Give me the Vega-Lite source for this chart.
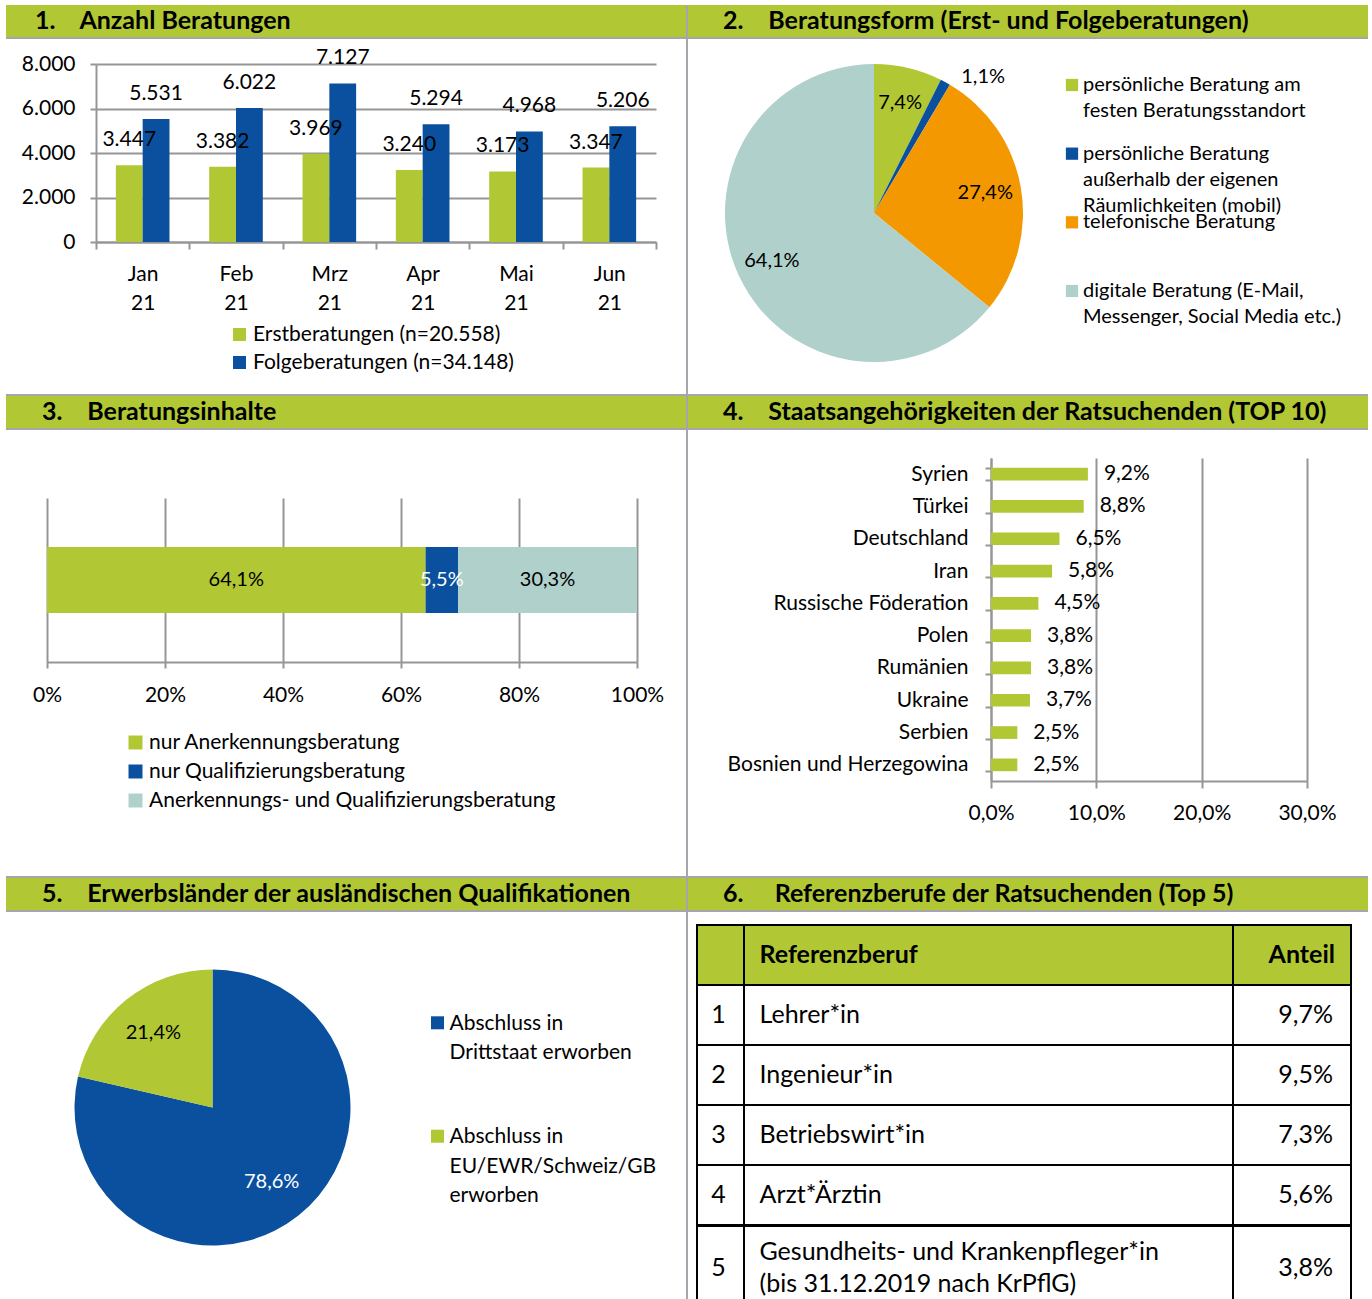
{
  "$schema": "https://vega.github.io/schema/vega-lite/v6.json",
  "padding": {"left": 6, "top": 5, "right": 0, "bottom": 0},
  "background": "#ffffff",
  "config": {
    "font": "Lato",
    "locale": {"number": {"decimal": ",", "thousands": ".", "grouping": [3], "currency": ["", " €"]}},
    "view": {"stroke": null},
    "concat": {"spacing": 0},
    "axis": {"labelFont": "Lato", "labelFontSize": 21, "labelColor": "#000000", "labelLimit": 400, "labelFlush": false, "domainColor": "#969696", "tickColor": "#969696", "gridColor": "#969696", "domainWidth": 2, "tickWidth": 2, "gridWidth": 2},
    "legend": {"labelFont": "Lato", "labelFontSize": 21, "labelColor": "#000000", "labelLimit": 500, "padding": 0, "symbolType": "square", "symbolStrokeWidth": 0},
    "text": {"font": "Lato", "color": "#000000"}
  },
  "datasets": {
    "beratungsform": [
      {"form": "persönliche Beratung am\nfesten Beratungsstandort", "anteil": 0.074, "nr": 1},
      {"form": "persönliche Beratung\naußerhalb der eigenen\nRäumlichkeiten (mobil)", "anteil": 0.011, "nr": 2},
      {"form": "telefonische Beratung", "anteil": 0.274, "nr": 3},
      {"form": "digitale Beratung (E-Mail,\nMessenger, Social Media etc.)", "anteil": 0.641, "nr": 4}
    ],
    "erwerb": [
      {"land": "Abschluss in\nDrittstaat erworben", "anteil": 0.786, "nr": 1},
      {"land": "Abschluss in\nEU/EWR/Schweiz/GB\nerworben", "anteil": 0.214, "nr": 2}
    ],
    "tabelle": [
      {"zeile": "Kopf", "rang": "", "beruf": "Referenzberuf", "anteil": null},
      {"zeile": "1", "rang": "1", "beruf": "Lehrer*in", "anteil": 0.097},
      {"zeile": "2", "rang": "2", "beruf": "Ingenieur*in", "anteil": 0.095},
      {"zeile": "3", "rang": "3", "beruf": "Betriebswirt*in", "anteil": 0.073},
      {"zeile": "4", "rang": "4", "beruf": "Arzt*Ärztin", "anteil": 0.056},
      {"zeile": "5", "rang": "5", "beruf": "Gesundheits- und Krankenpfleger*in\n(bis 31.12.2019 nach KrPflG)", "anteil": 0.038}
    ]
  },
  "spacing": 0,
  "resolve": {"scale": {"color": "independent", "theta": "independent"}},
  "hconcat": [
    {
      "spacing": 0,
      "resolve": {"scale": {"color": "independent", "theta": "independent"}},
      "vconcat": [
        {"width": 680, "height": 32, "view": {"fill": "#b1c834"}, "data": {"values": [{"t": "1.\u2003\u00a0Anzahl Beratungen"}]},
         "mark": {"type": "text", "align": "left", "baseline": "alphabetic", "dx": -311, "dy": 8, "fontSize": 25, "fontWeight": "bold"}, "encoding": {"text": {"field": "t"}}},
        {"width": 680, "height": 2, "view": {"fill": "#a5a5ab"}, "data": {"values": []}, "mark": "point", "encoding": {}},
        {
          "width": 680, "height": 355,
          "data": {"values": [
            {"monat": "Jan 21", "art": "Erstberatungen (n=20.558)", "anzahl": 3447},
            {"monat": "Jan 21", "art": "Folgeberatungen (n=34.148)", "anzahl": 5531},
            {"monat": "Feb 21", "art": "Erstberatungen (n=20.558)", "anzahl": 3382},
            {"monat": "Feb 21", "art": "Folgeberatungen (n=34.148)", "anzahl": 6022},
            {"monat": "Mrz 21", "art": "Erstberatungen (n=20.558)", "anzahl": 3969},
            {"monat": "Mrz 21", "art": "Folgeberatungen (n=34.148)", "anzahl": 7127},
            {"monat": "Apr 21", "art": "Erstberatungen (n=20.558)", "anzahl": 3240},
            {"monat": "Apr 21", "art": "Folgeberatungen (n=34.148)", "anzahl": 5294},
            {"monat": "Mai 21", "art": "Erstberatungen (n=20.558)", "anzahl": 3173},
            {"monat": "Mai 21", "art": "Folgeberatungen (n=34.148)", "anzahl": 4968},
            {"monat": "Jun 21", "art": "Erstberatungen (n=20.558)", "anzahl": 3347},
            {"monat": "Jun 21", "art": "Folgeberatungen (n=34.148)", "anzahl": 5206}
          ]},
          "encoding": {
            "x": {"field": "monat", "type": "nominal", "sort": null, "title": null,
                  "scale": {"range": [90, 650], "paddingInner": 0, "paddingOuter": 0},
                  "axis": {"orient": "bottom", "offset": -152, "labelAngle": 0, "tickBand": "extent", "labelExpr": "split(datum.label, ' ')", "labelLineHeight": 29, "labelPadding": 14, "labelBaseline": "top", "tickSize": 7, "grid": false}},
            "xOffset": {"field": "art", "type": "nominal", "sort": null, "scale": {"paddingInner": 0, "paddingOuter": 0.741}},
            "y": {"field": "anzahl", "type": "quantitative", "title": null, "scale": {"domain": [0, 8000], "nice": false, "range": [203, 25]},
                  "axis": {"offset": -90, "values": [0, 2000, 4000, 6000, 8000], "format": ",d", "tickSize": 6, "labelPadding": 15, "grid": true}},
            "color": {"field": "art", "type": "nominal", "sort": null, "scale": {"range": ["#b1c834", "#0a509e"]},
                      "legend": {"title": null, "orient": "none", "legendX": 223, "legendY": 285, "symbolType": "square", "symbolSize": 169, "rowPadding": 6, "labelOffset": 3}}
          },
          "layer": [
            {"mark": {"type": "bar"}},
            {"mark": {"type": "text", "baseline": "middle", "dy": -25, "fontSize": 21},
             "encoding": {"text": {"field": "anzahl", "type": "quantitative", "format": ",d"}, "color": {"value": "#000000"}}}
          ]
        },
        {"width": 680, "height": 2, "view": {"fill": "#a5a5ab"}, "data": {"values": []}, "mark": "point", "encoding": {}},
        {"width": 680, "height": 32, "view": {"fill": "#b1c834"}, "data": {"values": [{"t": "3.\u2003\u00a0Beratungsinhalte"}]},
         "mark": {"type": "text", "align": "left", "baseline": "alphabetic", "dx": -304, "dy": 8, "fontSize": 25, "fontWeight": "bold"}, "encoding": {"text": {"field": "t"}}},
        {"width": 680, "height": 2, "view": {"fill": "#a5a5ab"}, "data": {"values": []}, "mark": "point", "encoding": {}},
        {
          "spacing": 0,
          "resolve": {"scale": {"color": "independent"}},
          "vconcat": [
            {"width": 1, "height": 68, "data": {"values": []}, "mark": "point", "encoding": {}},
            {
              "spacing": 0, "bounds": "flush",
              "resolve": {"scale": {"color": "independent"}},
              "hconcat": [
                {"width": 41, "height": 378, "data": {"values": []}, "mark": "point", "encoding": {}},
                {
                  "width": 590, "height": 164,
                  "data": {"values": [
                    {"inhalt": "nur Anerkennungsberatung", "anteil": 0.641, "nr": 1},
                    {"inhalt": "nur Qualifizierungsberatung", "anteil": 0.055, "nr": 2},
                    {"inhalt": "Anerkennungs- und Qualifizierungsberatung", "anteil": 0.303, "nr": 3}
                  ]},
                  "encoding": {
                    "x": {"field": "anteil", "type": "quantitative", "stack": "normalize", "title": null,
                          "scale": {"domain": [0, 1], "nice": false},
                          "axis": {"values": [0, 0.2, 0.4, 0.6, 0.8, 1], "format": ".0%", "grid": true, "tickSize": 6, "labelPadding": 16}},
                    "y": {"datum": "Beratungsinhalte", "type": "nominal", "scale": {"paddingInner": 0, "paddingOuter": 0.742}, "axis": null},
                    "order": {"field": "nr", "type": "quantitative"},
                    "color": {"field": "inhalt", "type": "nominal", "sort": null, "scale": {"range": ["#b1c834", "#0a509e", "#b0d0cb"]},
                              "legend": {"title": null, "orient": "none", "legendX": 78, "legendY": 234, "symbolType": "square", "symbolSize": 196, "rowPadding": 7, "labelOffset": 3}}
                  },
                  "layer": [
                    {"mark": {"type": "bar"}},
                    {"mark": {"type": "text", "fontSize": 20},
                     "encoding": {"x": {"field": "anteil", "type": "quantitative", "stack": "normalize", "bandPosition": 0.5, "title": null,
                                        "scale": {"domain": [0, 1], "nice": false},
                                        "axis": {"values": [0, 0.2, 0.4, 0.6, 0.8, 1], "format": ".0%", "grid": true, "tickSize": 6, "labelPadding": 16}},
                                  "text": {"field": "anteil", "type": "quantitative", "format": ".1%"},
                                  "color": {"condition": {"test": "datum.nr == 2", "value": "#ffffff"}, "value": "#000000"}}}
                  ]
                }
              ]
            }
          ]
        },
        {"width": 680, "height": 2, "view": {"fill": "#a5a5ab"}, "data": {"values": []}, "mark": "point", "encoding": {}},
        {"width": 680, "height": 32, "view": {"fill": "#b1c834"}, "data": {"values": [{"t": "5.\u2003\u00a0Erwerbsländer der ausländischen Qualifikationen"}]},
         "mark": {"type": "text", "align": "left", "baseline": "alphabetic", "dx": -304, "dy": 8, "fontSize": 25, "fontWeight": "bold"}, "encoding": {"text": {"field": "t"}}},
        {"width": 680, "height": 2, "view": {"fill": "#a5a5ab"}, "data": {"values": []}, "mark": "point", "encoding": {}},
        {
          "spacing": 0, "bounds": "flush",
          "hconcat": [
            {
              "width": 413, "height": 391,
              "data": {"name": "erwerb"},
              "encoding": {
                "theta": {"field": "anteil", "type": "quantitative", "stack": true},
                "order": {"field": "nr", "type": "quantitative"},
                "color": {"field": "land", "type": "nominal", "sort": null, "scale": {"range": ["#0a509e", "#b1c834"]}, "legend": null}
              },
              "layer": [
                {"mark": {"type": "arc", "outerRadius": 138}},
                {"mark": {"type": "text", "radius": 95, "fontSize": 20},
                 "encoding": {"text": {"field": "anteil", "type": "quantitative", "format": ".1%"},
                              "color": {"condition": {"test": "datum.nr == 1", "value": "#ffffff"}, "value": "#000000"}}}
              ]
            },
            {
              "width": 37, "height": 335,
              "data": {"name": "erwerb"},
              "encoding": {
                "y": {"field": "land", "type": "nominal", "sort": null, "scale": {"padding": 0.977}, "axis": null},
                "color": {"field": "land", "type": "nominal", "sort": null, "scale": {"range": ["#0a509e", "#b1c834"]}, "legend": null}
              },
              "layer": [
                {"mark": {"type": "square", "size": 169, "opacity": 1}},
                {"mark": {"type": "text", "align": "left", "baseline": "top", "dx": 12, "dy": -10, "fontSize": 21, "lineBreak": "\n", "lineHeight": 29.5},
                 "encoding": {"text": {"field": "land"}, "color": {"value": "#000000"}}}
              ]
            }
          ]
        }
      ]
    },
    {"width": 2, "height": 1294, "view": {"fill": "#a5a5ab"}, "data": {"values": []}, "mark": "point", "encoding": {}},
    {
      "spacing": 0,
      "resolve": {"scale": {"color": "independent", "theta": "independent"}},
      "vconcat": [
        {"width": 680, "height": 32, "view": {"fill": "#b1c834"}, "data": {"values": [{"t": "2.\u2003\u00a0Beratungsform (Erst- und Folgeberatungen)"}]},
         "mark": {"type": "text", "align": "left", "baseline": "alphabetic", "dx": -305, "dy": 8, "fontSize": 25, "fontWeight": "bold"}, "encoding": {"text": {"field": "t"}}},
        {"width": 680, "height": 2, "view": {"fill": "#a5a5ab"}, "data": {"values": []}, "mark": "point", "encoding": {}},
        {
          "spacing": 0, "bounds": "flush",
          "hconcat": [
            {
              "width": 372, "height": 348,
              "data": {"name": "beratungsform"},
              "encoding": {
                "theta": {"field": "anteil", "type": "quantitative", "stack": true},
                "order": {"field": "nr", "type": "quantitative"},
                "color": {"field": "form", "type": "nominal", "sort": null, "scale": {"range": ["#b1c834", "#0a509e", "#f39800", "#b0d0cb"]}, "legend": null}
              },
              "layer": [
                {"mark": {"type": "arc", "outerRadius": 149}},
                {"mark": {"type": "text", "radius": 113, "fontSize": 20},
                 "encoding": {"text": {"condition": {"test": "datum.nr == 2", "value": ""}, "field": "anteil", "type": "quantitative", "format": ".1%"}, "color": {"value": "#000000"}}},
                {"mark": {"type": "text", "radius": 155, "fontSize": 20, "align": "left", "dx": 13},
                 "encoding": {"text": {"condition": {"test": "datum.nr != 2", "value": ""}, "field": "anteil", "type": "quantitative", "format": ".1%"}, "color": {"value": "#000000"}}}
              ]
            },
            {
              "width": 24, "height": 298,
              "data": {"name": "beratungsform"},
              "encoding": {
                "y": {"field": "form", "type": "nominal", "sort": null, "scale": {"padding": 0.67}, "axis": null},
                "color": {"field": "form", "type": "nominal", "sort": null, "scale": {"range": ["#b1c834", "#0a509e", "#f39800", "#b0d0cb"]}, "legend": null}
              },
              "layer": [
                {"mark": {"type": "square", "size": 150, "opacity": 1}},
                {"mark": {"type": "text", "align": "left", "baseline": "top", "dx": 11, "dy": -10, "fontSize": 20, "lineBreak": "\n", "lineHeight": 26},
                 "encoding": {"text": {"field": "form"}, "color": {"value": "#000000"}}}
              ]
            },
            {"width": 1, "height": 355, "data": {"values": []}, "mark": "point", "encoding": {}}
          ]
        },
        {"width": 680, "height": 2, "view": {"fill": "#a5a5ab"}, "data": {"values": []}, "mark": "point", "encoding": {}},
        {"width": 680, "height": 32, "view": {"fill": "#b1c834"}, "data": {"values": [{"t": "4.\u2003\u00a0Staatsangehörigkeiten der Ratsuchenden (TOP 10)"}]},
         "mark": {"type": "text", "align": "left", "baseline": "alphabetic", "dx": -305, "dy": 8, "fontSize": 25, "fontWeight": "bold"}, "encoding": {"text": {"field": "t"}}},
        {"width": 680, "height": 2, "view": {"fill": "#a5a5ab"}, "data": {"values": []}, "mark": "point", "encoding": {}},
        {
          "spacing": 0,
          "vconcat": [
            {"width": 1, "height": 17, "data": {"values": []}, "mark": "point", "encoding": {}},
            {
              "spacing": 0, "bounds": "flush",
              "hconcat": [
                {"width": 303, "height": 418, "data": {"values": []}, "mark": "point", "encoding": {}},
                {
                  "width": 316, "height": 323,
                  "data": {"values": [
                    {"land": "Syrien", "anteil": 0.092},
                    {"land": "Türkei", "anteil": 0.088},
                    {"land": "Deutschland", "anteil": 0.065},
                    {"land": "Iran", "anteil": 0.058},
                    {"land": "Russische Föderation", "anteil": 0.045},
                    {"land": "Polen", "anteil": 0.038},
                    {"land": "Rumänien", "anteil": 0.038},
                    {"land": "Ukraine", "anteil": 0.037},
                    {"land": "Serbien", "anteil": 0.025},
                    {"land": "Bosnien und Herzegowina", "anteil": 0.025}
                  ]},
                  "encoding": {
                    "y": {"field": "land", "type": "nominal", "sort": null, "title": null,
                          "scale": {"paddingInner": 0.607, "paddingOuter": 0.3035},
                          "axis": {"tickBand": "extent", "tickSize": 6, "labelPadding": 17, "grid": false}},
                    "x": {"field": "anteil", "type": "quantitative", "title": null, "scale": {"domain": [0, 0.3], "nice": false},
                          "axis": {"values": [0, 0.1, 0.2, 0.3], "format": ".1%", "grid": true, "tickSize": 7, "labelPadding": 14}}
                  },
                  "layer": [
                    {"mark": {"type": "bar", "color": "#b1c834"}},
                    {"mark": {"type": "text", "align": "left", "dx": 16, "fontSize": 21},
                     "encoding": {"text": {"field": "anteil", "type": "quantitative", "format": ".1%"}}}
                  ]
                }
              ]
            }
          ]
        },
        {"width": 680, "height": 2, "view": {"fill": "#a5a5ab"}, "data": {"values": []}, "mark": "point", "encoding": {}},
        {"width": 680, "height": 32, "view": {"fill": "#b1c834"}, "data": {"values": [{"t": "6.\u2003\u2002Referenzberufe der Ratsuchenden (Top 5)"}]},
         "mark": {"type": "text", "align": "left", "baseline": "alphabetic", "dx": -305, "dy": 8, "fontSize": 25, "fontWeight": "bold"}, "encoding": {"text": {"field": "t"}}},
        {"width": 680, "height": 2, "view": {"fill": "#a5a5ab"}, "data": {"values": []}, "mark": "point", "encoding": {}},
        {
          "spacing": 0,
          "vconcat": [
            {"width": 1, "height": 12, "data": {"values": []}, "mark": "point", "encoding": {}},
            {
              "spacing": 0,
              "hconcat": [
                {"width": 8, "height": 1, "data": {"values": []}, "mark": "point", "encoding": {}},
                {
                  "spacing": -2,
                  "vconcat": [
                    {
                      "spacing": 0, "bounds": "flush",
                      "hconcat": [
                        {
                          "width": 47, "height": 300,
                          "data": {"name": "tabelle"},
                          "transform": [{"filter": "datum.zeile != '5'"}],
                          "encoding": {"y": {"field": "zeile", "type": "nominal", "sort": null, "scale": {"type": "band", "paddingInner": 0, "paddingOuter": 0}, "axis": null}},
                          "layer": [
                            {"mark": {"type": "rect", "stroke": "#000000", "strokeWidth": 2},
                             "encoding": {"color": {"condition": {"test": "datum.zeile == 'Kopf'", "value": "#b1c834"}, "value": "#ffffff"}}},
                            {"mark": {"type": "text", "fontSize": 25, "dx": -2}, "encoding": {"text": {"field": "rang"}}}
                          ]
                        },
                        {
                          "width": 489, "height": 300,
                          "data": {"name": "tabelle"},
                          "transform": [{"filter": "datum.zeile != '5'"}],
                          "encoding": {"y": {"field": "zeile", "type": "nominal", "sort": null, "scale": {"type": "band", "paddingInner": 0, "paddingOuter": 0}, "axis": null}},
                          "layer": [
                            {"mark": {"type": "rect", "stroke": "#000000", "strokeWidth": 2},
                             "encoding": {"color": {"condition": {"test": "datum.zeile == 'Kopf'", "value": "#b1c834"}, "value": "#ffffff"}}},
                            {"transform": [{"filter": "datum.zeile != 'Kopf'"}],
                             "mark": {"type": "text", "align": "left", "dx": -229, "fontSize": 25}, "encoding": {"text": {"field": "beruf"}}},
                            {"transform": [{"filter": "datum.zeile == 'Kopf'"}],
                             "mark": {"type": "text", "align": "left", "dx": -229, "fontSize": 25, "fontWeight": "bold"}, "encoding": {"text": {"field": "beruf"}}}
                          ]
                        },
                        {
                          "width": 118, "height": 300,
                          "data": {"name": "tabelle"},
                          "transform": [{"filter": "datum.zeile != '5'"}],
                          "encoding": {"y": {"field": "zeile", "type": "nominal", "sort": null, "scale": {"type": "band", "paddingInner": 0, "paddingOuter": 0}, "axis": null}},
                          "layer": [
                            {"mark": {"type": "rect", "stroke": "#000000", "strokeWidth": 2},
                             "encoding": {"color": {"condition": {"test": "datum.zeile == 'Kopf'", "value": "#b1c834"}, "value": "#ffffff"}}},
                            {"transform": [{"filter": "datum.zeile != 'Kopf'"}],
                             "mark": {"type": "text", "align": "right", "dx": 41, "fontSize": 25}, "encoding": {"text": {"field": "anteil", "type": "quantitative", "format": ".1%"}}},
                            {"transform": [{"filter": "datum.zeile == 'Kopf'"}],
                             "mark": {"type": "text", "align": "right", "dx": 43, "fontSize": 25, "fontWeight": "bold"}, "encoding": {"text": {"value": "Anteil"}}}
                          ]
                        }
                      ]
                    },
                    {
                      "spacing": 0, "bounds": "flush",
                      "hconcat": [
                        {
                          "width": 47, "height": 84,
                          "data": {"name": "tabelle"},
                          "transform": [{"filter": "datum.zeile == '5'"}],
                          "encoding": {"y": {"field": "zeile", "type": "nominal", "sort": null, "scale": {"type": "band", "paddingInner": 0, "paddingOuter": 0}, "axis": null}},
                          "layer": [
                            {"mark": {"type": "rect", "stroke": "#000000", "strokeWidth": 2, "color": "#ffffff"}},
                            {"mark": {"type": "text", "fontSize": 25, "dx": -2}, "encoding": {"text": {"field": "rang"}}}
                          ]
                        },
                        {
                          "width": 489, "height": 84,
                          "data": {"name": "tabelle"},
                          "transform": [{"filter": "datum.zeile == '5'"}],
                          "encoding": {"y": {"field": "zeile", "type": "nominal", "sort": null, "scale": {"type": "band", "paddingInner": 0, "paddingOuter": 0}, "axis": null}},
                          "layer": [
                            {"mark": {"type": "rect", "stroke": "#000000", "strokeWidth": 2, "color": "#ffffff"}},
                            {"mark": {"type": "text", "align": "left", "dx": -229, "dy": -16, "fontSize": 25, "lineBreak": "\n", "lineHeight": 32}, "encoding": {"text": {"field": "beruf"}}}
                          ]
                        },
                        {
                          "width": 118, "height": 84,
                          "data": {"name": "tabelle"},
                          "transform": [{"filter": "datum.zeile == '5'"}],
                          "encoding": {"y": {"field": "zeile", "type": "nominal", "sort": null, "scale": {"type": "band", "paddingInner": 0, "paddingOuter": 0}, "axis": null}},
                          "layer": [
                            {"mark": {"type": "rect", "stroke": "#000000", "strokeWidth": 2, "color": "#ffffff"}},
                            {"mark": {"type": "text", "align": "right", "dx": 41, "fontSize": 25}, "encoding": {"text": {"field": "anteil", "type": "quantitative", "format": ".1%"}}}
                          ]
                        }
                      ]
                    }
                  ]
                }
              ]
            }
          ]
        }
      ]
    }
  ]
}
